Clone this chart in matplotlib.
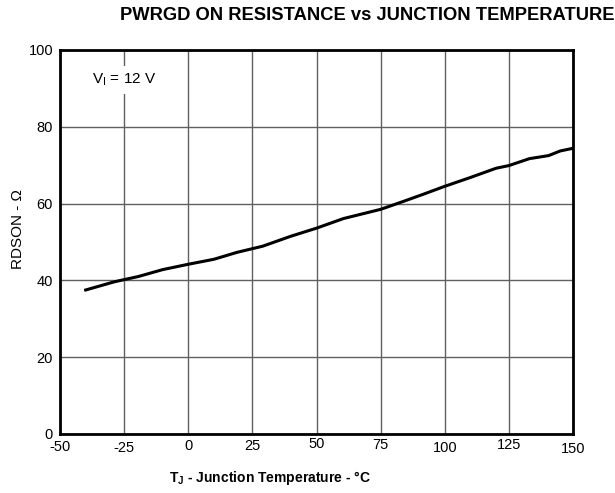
import numpy as np
import matplotlib
matplotlib.use("Agg")
import matplotlib.pyplot as plt
import matplotlib.transforms as mtrans

plt.rcParams['font.family'] = ['Liberation Sans', 'DejaVu Sans']
plt.rcParams['axes.unicode_minus'] = False

# valores
temp = [-40, -29, -25, -19.5, -10, 0, 10, 19, 29, 40, 50, 60.5, 75, 84, 91.5, 100, 110, 120, 125, 133, 140.5, 145, 150]
rdson = [37.5, 39.6, 40.2, 41.0, 42.8, 44.2, 45.5, 47.3, 48.9, 51.5, 53.6, 56.1, 58.5, 60.6, 62.4, 64.5, 66.8, 69.2, 69.9, 71.7, 72.5, 73.7, 74.4]

xticks = [-50, -25, 0, 25, 50, 75, 100, 125, 150]
yticks = [0, 20, 40, 60, 80, 100]
# desplazamiento vertical (pt) de cada etiqueta del eje x
xoffs = [-1, -2, -0.5, -0.5, 1, 0, -2, 0, -3]

fig = plt.figure(figsize=(6.15, 4.93), dpi=100)
ax = fig.add_axes([0.0976, 0.1197, 0.8341, 0.7789])

ax.plot(temp, rdson, color="black", linewidth=2.2)

ax.set_xlim(-50, 150)
ax.set_ylim(0, 100)
ax.set_xticks(xticks)
ax.set_yticks(yticks)
ax.tick_params(length=0, labelsize=10.5, pad=3)
ax.tick_params(axis="y", pad=5)
ax.grid(True, color="#606060", linewidth=1.0)
for s in ax.spines.values():
    s.set_linewidth(2)

for lab, d in zip(ax.get_xticklabels(), xoffs):
    lab.set_transform(lab.get_transform() + mtrans.ScaledTranslation(0, d / 72, fig.dpi_scale_trans))

ax.text(-25, 92.2, r"V$_\mathregular{I}$ = 12 V", fontsize=11, ha="center", va="center",
        bbox=dict(facecolor="white", edgecolor="none", pad=4))

fig.text(367 / 615, 1 - 16 / 493, "PWRGD ON RESISTANCE vs JUNCTION TEMPERATURE",
         fontsize=13.2, fontweight="bold", ha="center", va="center")
fig.text(270 / 615, 1 - 478 / 493, r"T$_\mathregular{J}$ - Junction Temperature - °C",
         fontsize=10, fontweight="bold", ha="center", va="center")
fig.text(18 / 615, 1 - 229 / 493, "RDSON - Ω", fontsize=11, rotation=90, ha="center", va="center")

fig.savefig("out.png", dpi=100)
